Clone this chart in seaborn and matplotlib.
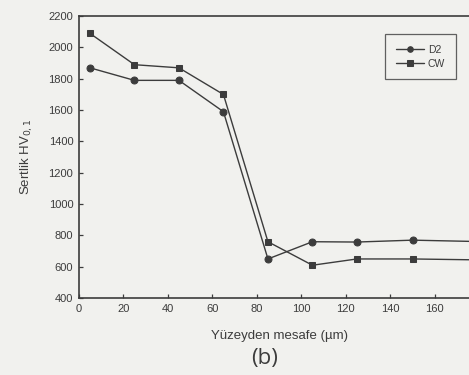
import numpy as np
import pandas as pd
import matplotlib
matplotlib.use("Agg")
import matplotlib.pyplot as plt
import seaborn as sns

# values (last point lies past the cropped edge)
mesafe = [5, 25, 45, 65, 85, 105, 125, 150, 200]
d2 = [1870, 1790, 1790, 1590, 650, 760, 758, 770, 755]
cw = [2090, 1890, 1870, 1700, 760, 610, 650, 650, 640]
seriler = ["D2", "CW"]

df = pd.DataFrame({
    "mesafe": mesafe * 2,
    "sertlik": d2 + cw,
    "seri": ["D2"] * len(d2) + ["CW"] * len(cw),
})

sns.set_style("ticks")
plt.rcParams["font.family"] = ["Liberation Sans", "DejaVu Sans"]

bg = "#f1f1ee"
ink = "#3c3c3c"

fig = plt.figure(figsize=(4.69, 3.75), dpi=100, facecolor=bg)
ax = fig.add_axes([0.168, 0.205, 0.854, 0.752], facecolor=bg)

sns.lineplot(data=df, x="mesafe", y="sertlik", hue="seri", style="seri",
             hue_order=seriler, style_order=seriler,
             palette={"D2": ink, "CW": ink},
             markers={"D2": "o", "CW": "s"}, dashes=False,
             markersize=5, linewidth=1.0, markeredgecolor=ink,
             ax=ax, legend=True)

ax.set_xlim(0, 180)
ax.set_ylim(400, 2200)
ax.set_xticks(np.arange(0, 161, 20))
ax.set_yticks(np.arange(400, 2201, 200))
ax.tick_params(direction="in", length=3, width=0.9, colors=ink,
               labelsize=8, pad=4)
for s in ax.spines.values():
    s.set_color(ink)
    s.set_linewidth(1.2)

ax.set_xlabel("Yüzeyden mesafe (µm)", fontsize=9.5, color=ink, labelpad=12)
ax.set_ylabel("Sertlik HV$_{0,1}$", fontsize=9.5, color=ink, labelpad=10)

leg = ax.legend(loc="upper left", bbox_to_anchor=(0.765, 0.935),
                fontsize=7.5, frameon=True, fancybox=False, handlelength=2.7,
                borderpad=1.0, labelspacing=0.35, handletextpad=0.4,
                markerscale=0.8, borderaxespad=0)
leg.get_frame().set_edgecolor(ink)
leg.get_frame().set_facecolor(bg)
leg.get_frame().set_linewidth(0.9)
for t in leg.get_texts():
    t.set_color(ink)

fig.text(0.565, 0.045, "(b)", fontsize=16, color=ink,
         family=["Open Sans", "DejaVu Sans"], ha="center", va="center")

fig.savefig("out.png", dpi=100, facecolor=bg)
